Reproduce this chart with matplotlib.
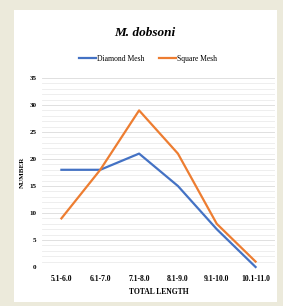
import matplotlib.pyplot as plt
import matplotlib.patches as ptc

categories = ['5.1-6.0', '6.1-7.0', '7.1-8.0', '8.1-9.0', '9.1-10.0', '10.1-11.0']
diamond = [18, 18, 21, 15, 7, 0]
square = [9, 18, 29, 21, 8, 1]
y_ticks = [0, 5, 10, 15, 20, 25, 30, 35]

plt.rcParams['font.family'] = ['Liberation Serif', 'DejaVu Serif']

fig = plt.figure(figsize=(2.83, 3.06), dpi=100)
fig.patch.set_facecolor('#ECEADB')
# white chart panel
fig.patches.append(ptc.Rectangle(
    (14 / 283, 1 - 302 / 306), 263 / 283, 292 / 306,
    transform=fig.transFigure, facecolor='white', edgecolor='none', zorder=-10
))

ax = fig.add_axes([42 / 283, 39 / 306, 233 / 283, 189 / 306])
ax.set_facecolor('none')
x = list(range(len(categories)))

for v in range(0, 36):
    ax.axhline(v, color='#EBEBEB' if v % 5 else '#DADADA', lw=0.6, zorder=1)

ax.plot(x, diamond, color='#4472C4', lw=1.6, label='Diamond Mesh', zorder=3, clip_on=False)
ax.plot(x, square, color='#ED7D31', lw=1.6, label='Square Mesh', zorder=3, clip_on=False)

ax.set_xlim(-0.5, len(categories) - 0.5)
ax.set_ylim(0, 35)
ax.set_xticks(x)
ax.set_xticklabels(categories, fontsize=5.5, fontweight='bold')
ax.set_yticks(y_ticks)
ax.set_yticklabels([str(t) for t in y_ticks], fontsize=5, fontweight='bold')
ax.tick_params(axis='x', length=0, pad=6)
ax.tick_params(axis='y', length=0, pad=4)
for s in ax.spines.values():
    s.set_visible(False)

ax.set_xlabel('TOTAL LENGTH', fontsize=5.5, fontweight='bold', labelpad=3)
ax.set_ylabel('NUMBER', fontsize=5, fontweight='bold', labelpad=3)

fig.text(145 / 283, 1 - 33 / 306, 'M. dobsoni', fontsize=9.5, fontweight='bold',
         style='italic', ha='center', va='center')
fig.legend(loc='center', bbox_to_anchor=(148 / 283, 1 - 59 / 306), ncol=2,
           frameon=False, fontsize=5.5, handlelength=2.2, columnspacing=2.0,
           handletextpad=0.1)

fig.savefig('out.png', dpi=100, facecolor=fig.get_facecolor())
